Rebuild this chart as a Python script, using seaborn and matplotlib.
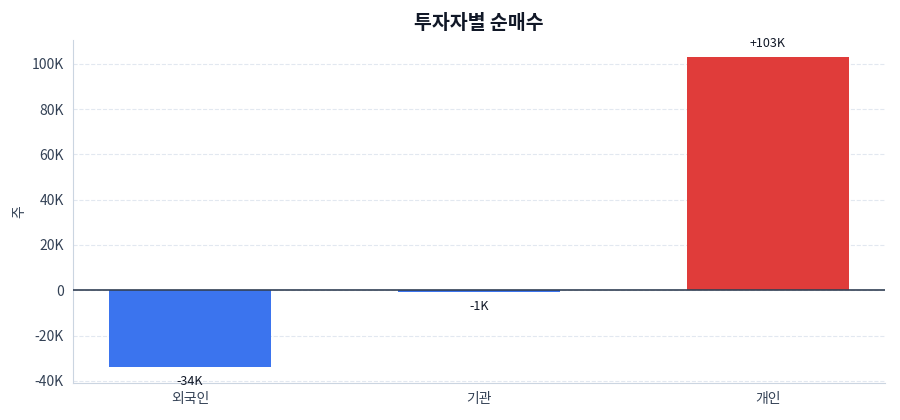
import pandas as pd
import seaborn as sns
import matplotlib.pyplot as plt
import matplotlib.ticker as ticker

# DATA
investors = ["외국인", "기관", "개인"]
net_buy = [-34000, -900, 103000]
value_labels = ["-34K", "-1K", "+103K"]
bar_colors = {"외국인": "#3b74ee", "기관": "#3b74ee", "개인": "#e03c3a"}

df = pd.DataFrame({"투자자": investors, "순매수": net_buy})

sns.set_style("white")
plt.rcParams['font.family'] = ['Noto Sans CJK KR', 'DejaVu Sans']

fig = plt.figure(figsize=(9, 4.2), dpi=100)
ax = fig.add_axes([0.081, 0.088, 0.902, 0.817])

sns.barplot(data=df, x="투자자", y="순매수", hue="투자자", palette=bar_colors,
            width=0.56, legend=False, ax=ax, saturation=1, edgecolor="none")

ax.axhline(0, color="#334155", linewidth=1.2, zorder=3)

# VALUE LABELS ABOVE / BELOW EACH BAR
for i, (v, lab) in enumerate(zip(net_buy, value_labels)):
    off = 10 if v > 0 else -10
    ax.annotate(lab, (i, v), xytext=(0, off), textcoords="offset points",
                ha="center", va="center", fontsize=9, color="#111827")

ax.set_xlim(-0.405, 2.405)
ax.set_ylim(-41000, 110600)
ax.yaxis.set_major_locator(ticker.MultipleLocator(20000))
ax.yaxis.set_major_formatter(ticker.FuncFormatter(
    lambda x, pos: "0" if x == 0 else f"{int(x / 1000)}K"))

ax.grid(axis='y', linestyle='--', color="#e2e8f0", linewidth=0.8)
ax.set_axisbelow(True)

for side in ["top", "right"]:
    ax.spines[side].set_visible(False)
for side in ["left", "bottom"]:
    ax.spines[side].set_color("#cbd5e1")
    ax.spines[side].set_linewidth(0.8)

ax.tick_params(axis='both', labelcolor="#334155", labelsize=10, length=3, width=0.8,
               color="#475569")
ax.set_xlabel("")
ax.set_ylabel("주", fontsize=10, color="#334155")
ax.set_title("투자자별 순매수", fontsize=14, fontweight="bold", color="#111827", pad=8)

fig.savefig("out.png", dpi=100)
